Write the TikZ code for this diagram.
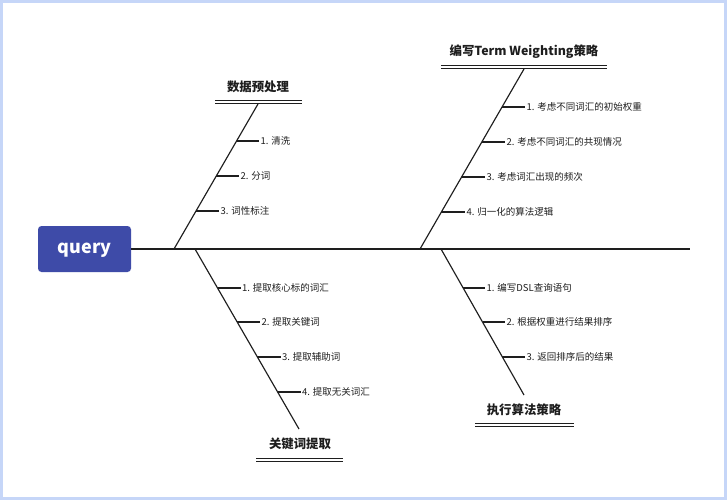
\documentclass[tikz,border=0pt]{standalone}
\usepackage{fontspec}
\setmainfont{Noto Sans CJK SC}
\newfontfamily\cjk{Noto Sans CJK SC}
\usetikzlibrary{calc}
\definecolor{qblue}{RGB}{62,75,168}
\definecolor{framebl}{RGB}{198,214,248}
\definecolor{ink}{RGB}{30,30,30}
\tikzset{
  bone/.style={draw=ink, line width=1.15pt},
  subbone/.style={draw=ink, line width=1.15pt},
  dbl/.style={draw=ink, line width=1pt},
  leaf/.style={anchor=west, inner sep=1.5pt, font=\cjk\fontsize{9.5}{11}\selectfont, text=ink},
  ttl/.style={inner sep=0pt, font=\cjk\bfseries\fontsize{12.4}{14}\selectfont, text=ink},
  head/.style={fill=qblue, rounded corners=3.5pt, text=white, minimum width=93pt, minimum height=46pt, inner sep=0pt, text height=12pt, text depth=3pt, font=\cjk\bfseries\fontsize{18}{20}\selectfont}
}
\begin{document}
\begin{tikzpicture}[x=1pt,y=-1pt]
\useasboundingbox (0,0) rectangle (727,500);
\fill[white] (0,0) rectangle (727,500);
\draw[framebl, line width=3pt] (1.5,1.5) rectangle (725.5,498.5);

% head and spine
\node[head] (q) at (84.5,249) {query};
\coordinate (spineEnd) at (690,249);
\draw[bone, line width=1.25pt] (q.east) -- (spineEnd);

% ---------- upper-left: 数据预处理
\coordinate (A0) at (174,249);
\coordinate (A1) at (258,104);
\draw[bone] (A0) -- (A1);
\coordinate (Ad1) at (215,100.5); \coordinate (Ad2) at (302,100.5);
\coordinate (Ad3) at (215,103.5); \coordinate (Ad4) at (302,103.5);
\draw[dbl] (Ad1) -- (Ad2); \draw[dbl] (Ad3) -- (Ad4);
\node[ttl] (At) at (258,87) {数据预处理};
\coordinate (Aa) at (236.6,141); \node[leaf] (Al1) at (259,141) {1. 清洗};
\coordinate (Ab) at (216.3,176); \node[leaf] (Al2) at (239,176) {2. 分词};
\coordinate (Ac) at (196,211);   \node[leaf] (Al3) at (219,211) {3. 词性标注};
\draw[subbone] (Aa) -- (Al1.west);
\draw[subbone] (Ab) -- (Al2.west);
\draw[subbone] (Ac) -- (Al3.west);

% ---------- lower-left: 关键词提取
\coordinate (B0) at (195,249);
\coordinate (B1) at (299,429);
\draw[bone] (B0) -- (B1);
\node[ttl] (Bt) at (300,444) {关键词提取};
\coordinate (Bd1) at (256,458.5); \coordinate (Bd2) at (343,458.5);
\coordinate (Bd3) at (256,461.5); \coordinate (Bd4) at (343,461.5);
\draw[dbl] (Bd1) -- (Bd2); \draw[dbl] (Bd3) -- (Bd4);
\coordinate (Ba) at (217.5,288); \node[leaf] (Bl1) at (240.5,288) {1. 提取核心标的词汇};
\coordinate (Bb) at (237.2,322); \node[leaf] (Bl2) at (260,322) {2. 提取关键词};
\coordinate (Bc) at (257.4,357); \node[leaf] (Bl3) at (280.5,357) {3. 提取辅助词};
\coordinate (Bdd) at (277.6,392); \node[leaf] (Bl4) at (300.5,392) {4. 提取无关词汇};
\draw[subbone] (Ba) -- (Bl1.west);
\draw[subbone] (Bb) -- (Bl2.west);
\draw[subbone] (Bc) -- (Bl3.west);
\draw[subbone] (Bdd) -- (Bl4.west);

% ---------- upper-right: 编写Term Weighting策略
\coordinate (C0) at (420,249);
\coordinate (C1) at (524,69);
\draw[bone] (C0) -- (C1);
\coordinate (Cd1) at (441,65.5); \coordinate (Cd2) at (607,65.5);
\coordinate (Cd3) at (441,68.5); \coordinate (Cd4) at (607,68.5);
\draw[dbl] (Cd1) -- (Cd2); \draw[dbl] (Cd3) -- (Cd4);
\node[ttl] (Ct) at (524,52) {编写Term Weighting策略};
\coordinate (Ca) at (502,107);   \node[leaf] (Cl1) at (525,107) {1. 考虑不同词汇的初始权重};
\coordinate (Cb) at (481.8,142); \node[leaf] (Cl2) at (505,142) {2. 考虑不同词汇的共现情况};
\coordinate (Cc) at (461.6,177); \node[leaf] (Cl3) at (485,177) {3. 考虑词汇出现的频次};
\coordinate (Cdd) at (441.4,212); \node[leaf] (Cl4) at (465,212) {4. 归一化的算法逻辑};
\draw[subbone] (Ca) -- (Cl1.west);
\draw[subbone] (Cb) -- (Cl2.west);
\draw[subbone] (Cc) -- (Cl3.west);
\draw[subbone] (Cdd) -- (Cl4.west);

% ---------- lower-right: 执行算法策略
\coordinate (D0) at (441,249);
\coordinate (D1) at (524,395);
\draw[bone] (D0) -- (D1);
\node[ttl] (Dt) at (524,410) {执行算法策略};
\coordinate (Dd1) at (475,423.5); \coordinate (Dd2) at (574,423.5);
\coordinate (Dd3) at (475,426.5); \coordinate (Dd4) at (574,426.5);
\draw[dbl] (Dd1) -- (Dd2); \draw[dbl] (Dd3) -- (Dd4);
\coordinate (Da) at (463.2,288); \node[leaf] (Dl1) at (485,288) {1. 编写DSL查询语句};
\coordinate (Db) at (482.5,322); \node[leaf] (Dl2) at (505,322) {2. 根据权重进行结果排序};
\coordinate (Dc) at (502.4,357); \node[leaf] (Dl3) at (525,357) {3. 返回排序后的结果};
\draw[subbone] (Da) -- (Dl1.west);
\draw[subbone] (Db) -- (Dl2.west);
\draw[subbone] (Dc) -- (Dl3.west);
\end{tikzpicture}
\end{document}
